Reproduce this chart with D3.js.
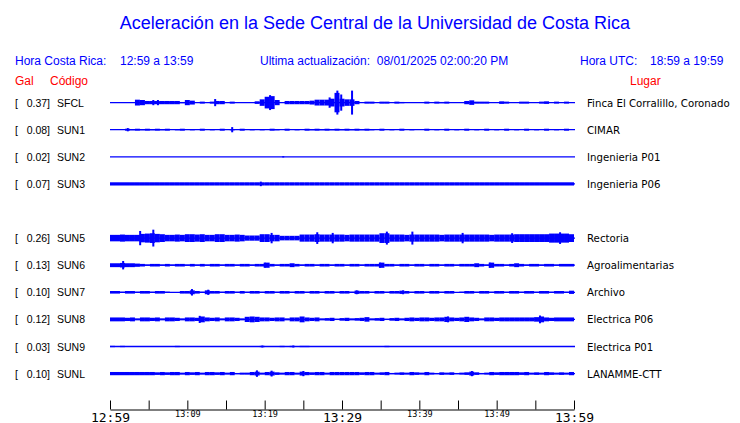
<!DOCTYPE html>
<html><head><meta charset="utf-8">
<script src="https://cdn.jsdelivr.net/npm/d3@7"></script>
<style>html,body{margin:0;padding:0;background:#fff}svg{display:block}</style>
</head><body>
<svg id="chart" width="740" height="423"></svg>
<script>
// ---------- data ----------
const title = "Aceleración en la Sede Central de la Universidad de Costa Rica";
const localRange = "12:59 a 13:59";
const utcRange = "18:59 a 19:59";
const updated = "08/01/2025 02:00:20 PM";
const codes  = ["SFCL","SUN1","SUN2","SUN3","SUN5","SUN6","SUN7","SUN8","SUN9","SUNL"];
const peaks  = [0.37,0.08,0.02,0.07,0.26,0.13,0.10,0.12,0.03,0.10];
const places = ["Finca El Corralillo, Coronado","CIMAR","Ingenieria P01","Ingenieria P06","Rectoria","Agroalimentarias","Archivo","Electrica P06","Electrica P01","LANAMME-CTT"];
const slots  = [0,1,2,3,5,6,7,8,9,10];
const tickMinutes = [0,5,10,15,20,25,30,35,40,45,50,55,60];
const tickLabels  = ["12:59","","13:09","","13:19","","13:29","","13:39","","13:49","","13:59"];
const majorTicks  = [0,30,60];

// envelope (half-amplitude, Gal) in 93 equal time bins over the hour
const sfclEnv = [0,0,0,0,0,0.09,0.08,0.05,0.05,0.05,
 0.05,0.05,0.05,0.05,0.02,0.08,0.06,0,0.03,0,
 0.03,0.05,0.05,0,0.03,0,0,0,0,0.04,
 0.1,0.18,0.2,0.08,0,0.05,0.05,0.05,0.05,0.05,
 0.06,0.09,0.09,0.09,0.12,0.3,0.12,0.1,0.1,0.05,
 0,0.03,0.03,0,0.03,0.03,0,0.03,0.02,0,
 0,0,0,0.03,0,0.03,0.02,0.03,0,0,
 0,0.05,0.07,0.03,0.03,0.03,0,0,0.04,0.03,
 0,0,0.03,0.03,0,0,0.03,0.04,0,0.03,
 0,0.03,0];
const sun1Env = [0,0,0,0.03,0.02,0.03,0.02,0.03,0.02,0.03,
 0.02,0.03,0,0.02,0.03,0,0.02,0,0.03,0,
 0.02,0,0.03,0,0.02,0,0.03,0,0.02,0,
 0.02,0,0.03,0.02,0,0.03,0,0.02,0,0.03,
 0.02,0.03,0.02,0.03,0.02,0.03,0.02,0.03,0.02,0.03,
 0.02,0.03,0.02,0,0.03,0,0.02,0,0.03,0,
 0.02,0,0,0.03,0,0.02,0,0.03,0,0.02,
 0,0.03,0,0.02,0,0.03,0,0.02,0,0.03,
 0,0.02,0,0.03,0,0.02,0,0.03,0,0.02,
 0,0.03,0];
const sun2Env = [0,0,0,0,0,0,0,0,0,0,
 0,0,0,0,0,0,0,0,0,0,
 0,0,0,0,0,0,0,0,0,0,
 0,0,0,0,0,0,0,0,0,0,
 0,0,0,0,0,0,0,0,0,0,
 0,0,0,0,0,0,0,0,0,0,
 0,0,0,0,0,0,0,0,0,0,
 0,0,0,0,0,0,0,0,0,0,
 0,0,0,0,0,0,0,0,0,0,
 0,0,0];
const sun3Env = [0.05,0.05,0.05,0.05,0.05,0.05,0.05,0.05,0.05,0.05,
 0.05,0.05,0.05,0.05,0.05,0.05,0.05,0.05,0.05,0.05,
 0.05,0.05,0.05,0.05,0.05,0.05,0.05,0.05,0.05,0.05,
 0.05,0.05,0.05,0.05,0.05,0.05,0.05,0.05,0.05,0.05,
 0.05,0.05,0.05,0.05,0.05,0.05,0.05,0.05,0.05,0.05,
 0.05,0.05,0.05,0.05,0.05,0.05,0.05,0.05,0.05,0.05,
 0.05,0.05,0.05,0.05,0.05,0.05,0.05,0.05,0.05,0.05,
 0.05,0.05,0.05,0.05,0.05,0.05,0.05,0.05,0.05,0.05,
 0.05,0.05,0.05,0.05,0.05,0.05,0.05,0.05,0.05,0.05,
 0.05,0.05,0.05];
const sun5Env = [0.1,0.1,0.11,0.1,0.1,0.1,0.13,0.14,0.15,0.13,
 0.12,0.1,0.1,0.11,0.1,0.12,0.12,0.11,0.12,0.1,
 0.1,0.12,0.12,0.1,0.1,0.11,0.1,0.08,0.08,0.08,
 0.12,0.12,0.1,0.1,0.07,0.07,0.07,0.07,0.11,0.11,
 0.11,0.12,0.11,0.11,0.11,0.11,0.11,0.1,0.11,0.11,
 0.11,0.11,0.11,0.11,0.15,0.15,0.11,0.11,0.11,0.1,
 0.11,0.11,0.11,0.11,0.11,0.11,0.1,0.11,0.11,0.11,
 0.11,0.11,0.11,0.11,0.11,0.11,0.1,0.11,0.11,0.11,
 0.11,0.12,0.12,0.12,0.12,0.12,0.12,0.12,0.14,0.14,
 0.14,0.14,0.12];
const sun6Env = [0.06,0.06,0.07,0.06,0.06,0.05,0.04,0.02,0.04,0.04,
 0.02,0.04,0.02,0.04,0.04,0.02,0.04,0.02,0.04,0.02,
 0.04,0.04,0.02,0.04,0.04,0.02,0.04,0.04,0.02,0.04,
 0.04,0.08,0.04,0.02,0.04,0.04,0.06,0.04,0.02,0.04,
 0.04,0.02,0.04,0.04,0.02,0.04,0.04,0.02,0.04,0.04,
 0.02,0.04,0.04,0.04,0.08,0.04,0.04,0.02,0.04,0.04,
 0.02,0.04,0.04,0.02,0.04,0.04,0.02,0.04,0.04,0.02,
 0.04,0.04,0.04,0.06,0.04,0.02,0.08,0.04,0.04,0.02,
 0.04,0.06,0.04,0.02,0.04,0.04,0.02,0.04,0.04,0.02,
 0.04,0.04,0.04];
const sun7Env = [0.04,0.04,0.02,0.04,0.04,0.02,0.04,0.04,0.02,0.04,
 0.04,0.02,0,0,0.04,0.04,0.06,0.04,0.02,0.06,
 0.04,0.04,0.02,0.04,0.04,0.02,0.04,0.02,0.04,0.04,
 0.02,0.04,0.04,0.02,0.04,0.04,0.02,0.04,0.04,0.02,
 0.04,0.04,0.02,0.04,0.04,0.02,0.04,0.04,0.02,0.05,
 0.04,0.04,0.02,0.04,0.04,0.02,0.04,0.04,0.05,0.04,
 0.02,0.04,0.04,0.02,0.04,0.04,0.02,0.04,0.04,0,
 0.02,0.04,0.04,0.02,0.04,0.04,0.02,0.04,0.04,0.02,
 0.04,0.04,0.02,0.04,0.04,0.02,0.04,0.04,0.02,0.04,
 0.04,0.02,0.05];
const sun8Env = [0.06,0.06,0.06,0.05,0.06,0.03,0.06,0.06,0.05,0.06,
 0.03,0.06,0.06,0.05,0.03,0.06,0.06,0.05,0.09,0.06,
 0.05,0.06,0.03,0.06,0.06,0.05,0.03,0.08,0.09,0.08,
 0.06,0.06,0.05,0.06,0.06,0.03,0.06,0.06,0.09,0.06,
 0.05,0.06,0.03,0.04,0.05,0.02,0.04,0.05,0.03,0.04,
 0.05,0.07,0.03,0.04,0.05,0.02,0.04,0.05,0.03,0.05,
 0.06,0.05,0.06,0.06,0.05,0.06,0.06,0.08,0.06,0.05,
 0.06,0.08,0.06,0.05,0.03,0.06,0.06,0.05,0.06,0.06,
 0.06,0.06,0.06,0.06,0.06,0.07,0.09,0.06,0.05,0.06,
 0.06,0.06,0.06];
const sun9Env = [0.02,0,0.02,0,0,0,0,0,0,0,
 0,0,0,0.02,0,0,0,0,0,0,
 0,0,0,0,0,0,0,0,0,0,
 0.02,0,0,0,0.02,0,0.02,0,0.02,0.02,
 0,0,0,0,0,0,0,0,0,0,
 0,0,0.01,0,0,0.02,0,0,0,0,
 0,0,0,0,0,0,0,0,0,0,
 0,0,0,0,0,0,0.01,0,0,0,
 0,0,0,0,0,0.01,0,0,0,0,
 0,0,0];
const sunlEnv = [0.05,0.05,0.05,0.05,0.05,0.05,0.05,0.05,0.05,0.04,
 0.05,0.04,0.05,0.05,0.03,0.05,0.04,0.05,0.03,0.05,
 0.05,0.04,0.05,0.03,0.05,0.02,0.03,0.03,0.05,0.06,
 0.03,0.05,0.06,0.04,0.03,0.05,0.05,0.03,0.06,0.05,
 0.04,0.05,0.05,0.03,0.05,0.05,0.05,0.05,0.05,0.05,
 0.04,0.05,0.05,0.03,0.04,0.05,0.02,0.03,0.04,0.03,
 0.05,0.04,0.03,0.05,0.03,0.02,0.04,0.03,0.04,0.02,
 0.03,0.04,0.06,0.04,0.02,0.03,0.05,0.04,0.05,0.05,
 0.05,0.05,0.04,0.05,0.03,0.04,0.03,0.05,0.04,0.03,
 0.04,0.03,0.05];

// isolated peaks: [minute after 12:59, half-amplitude Gal]
const sfclSpikes = [[5.6,0.08],[6.2,0.08],[13.6,0.11],[20.7,0.23],[28.4,0.16],[29.4,0.37],[29.9,0.25],[31.3,0.37]];
const sun1Spikes = [[2.3,0.05],[15.8,0.08]];
const sun2Spikes = [[22.4,0.02]];
const sun3Spikes = [[19.5,0.07]];
const sun5Spikes = [[3.9,0.22],[5.6,0.26],[20.9,0.16],[26.8,0.18],[28.8,0.16],[35.8,0.2],[39.1,0.2],[45.6,0.16],[52.0,0.15],[58.2,0.18]];
const sun6Spikes = [[1.7,0.13],[20.0,0.08],[34.9,0.08],[49.1,0.08]];
const sun7Spikes = [[10.6,0.10],[12.7,0.08],[31.9,0.06],[37.9,0.06]];
const sun8Spikes = [[11.6,0.11],[43.7,0.09],[55.6,0.12]];
const sun9Spikes = [[19.7,0.03],[23.7,0.03]];
const sunlSpikes = [[19.0,0.10],[20.9,0.09],[25.0,0.08],[46.8,0.08]];

const envelopes = [sfclEnv,sun1Env,sun2Env,sun3Env,sun5Env,sun6Env,sun7Env,sun8Env,sun9Env,sunlEnv];
const spikes = [sfclSpikes,sun1Spikes,sun2Spikes,sun3Spikes,sun5Spikes,sun6Spikes,sun7Spikes,sun8Spikes,sun9Spikes,sunlSpikes];

// ---------- drawing ----------
const BLUE = "#0000ff", RED = "#ff0000";
const svg = d3.select("#chart");
const x = d3.scaleLinear().domain([0,60]).range([110,574]);
const row = d3.scaleLinear().domain([0,10]).range([102.6,373.6]);
const amp = d3.scaleLinear().domain([0,1]).range([0,32.4]);

const sans = "'Liberation Sans', Arial, Helvetica, sans-serif";

svg.append("text").attr("x",375).attr("y",29).attr("text-anchor","middle")
  .attr("font-family",sans).attr("font-size",18).attr("fill",BLUE).text(title);

const hdr = svg.append("g").attr("font-family",sans).attr("font-size",12).attr("fill",BLUE);
hdr.append("text").attr("x",15).attr("y",65).text("Hora Costa Rica:");
hdr.append("text").attr("x",120).attr("y",65).text(localRange);
hdr.append("text").attr("x",260).attr("y",65).attr("xml:space","preserve").text("Ultima actualización:  " + updated);
hdr.append("text").attr("x",580).attr("y",65).text("Hora UTC:");
hdr.append("text").attr("x",650).attr("y",65).text(utcRange);

const sub = svg.append("g").attr("font-family",sans).attr("font-size",12).attr("fill",RED);
sub.append("text").attr("x",15).attr("y",85).text("Gal");
sub.append("text").attr("x",50).attr("y",85).text("Código");
sub.append("text").attr("x",630).attr("y",85).text("Lugar");

const nBins = sfclEnv.length;
const binW = 60 / nBins;

codes.forEach((code,i) => {
  const cy = row(slots[i]);
  const g = svg.append("g");
  // labels
  g.append("text").attr("x",15).attr("y",cy+4).attr("font-family",sans).attr("font-size",10.5).attr("fill","#000").text("[");
  g.append("text").attr("x",50).attr("y",cy+4).attr("text-anchor","end").attr("font-family",sans).attr("font-size",10.5).attr("fill","#000").text(d3.format(".2f")(peaks[i]) + "]");
  g.append("text").attr("x",57).attr("y",cy+4).attr("font-family",sans).attr("font-size",10.5).attr("fill","#000").text(code);
  g.append("text").attr("x",587).attr("y",cy+4).attr("font-family","'DejaVu Sans', sans-serif").attr("font-size",10.2).attr("fill","#000").text(places[i]);
  // baseline trace
  g.append("line").attr("x1",x(0)).attr("x2",x(60)+1).attr("y1",cy).attr("y2",cy)
    .attr("stroke",BLUE).attr("stroke-width",1.3);
  // envelope blocks
  g.selectAll("rect.env").data(envelopes[i].map((v,k)=>({k,v})).filter(d=>d.v>0))
    .join("rect").attr("class","env")
    .attr("x",d=>x(d.k*binW)).attr("width",d=>x((d.k+1)*binW)-x(d.k*binW))
    .attr("y",d=>cy-amp(d.v)).attr("height",d=>2*amp(d.v)).attr("fill",BLUE);
  // spikes
  g.selectAll("rect.spk").data(spikes[i]).join("rect").attr("class","spk")
    .attr("x",d=>x(d[0])-1).attr("width",2)
    .attr("y",d=>cy-amp(d[1])).attr("height",d=>2*amp(d[1])).attr("fill",BLUE);
});

// time axis
const axis = d3.axisBottom(x).tickValues(tickMinutes).tickSizeInner(-9).tickSizeOuter(0)
  .tickFormat((d,i)=>tickLabels[i]);
const ag = svg.append("g").attr("transform","translate(0,409.5)").call(axis);
ag.select(".domain").attr("stroke","#000");
ag.selectAll(".tick line").attr("stroke","#000");
ag.selectAll(".tick text")
  .attr("fill","#000").attr("dy",null)
  .attr("font-family","'DejaVu Sans Mono', monospace")
  .attr("font-size",d=>majorTicks.includes(d)?13:8.5)
  .attr("y",d=>majorTicks.includes(d)?12:7.5);
</script>
</body></html>
